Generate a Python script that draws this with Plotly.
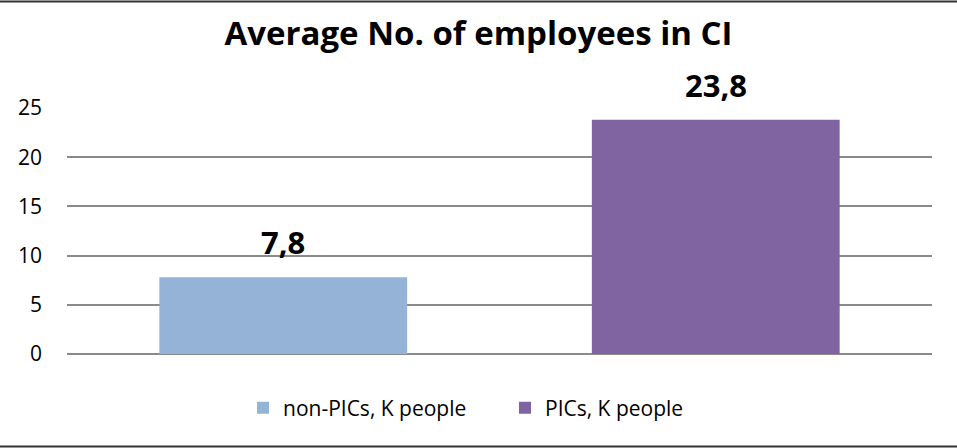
import plotly.graph_objects as go

categories = ["non-PICs, K people", "PICs, K people"]
values = [7.8, 23.8]
colors = ["#95B3D7", "#8064A2"]
y_ticks = [0, 5, 10, 15, 20, 25]
title_text = "Average No. of employees in CI"

FONT = "Open Sans"
W, H = 957, 448
ML, MR, MT, MB = 67, 25, 108, 94
PW, PH = W - ML - MR, H - MT - MB

fig = go.Figure()
for cat, val, col in zip(categories, values, colors):
    fig.add_trace(go.Bar(
        x=[cat], y=[val], name=cat,
        marker=dict(color=col, line=dict(width=0)),
        hoverinfo="x+y",
    ))

annotations = []
for cat, val in zip(categories, values):
    annotations.append(dict(
        x=cat, y=val, xref="x", yref="y",
        text=f"{val:.1f}".replace(".", ","),
        showarrow=False, yanchor="bottom", yshift=12,
        font=dict(family=FONT, size=31, color="#000000", weight="bold"),
    ))

shapes = [
    dict(type="line", xref="paper", yref="paper",
         x0=-ML / PW, x1=(W - ML) / PW,
         y0=(PH + MT - 1.5) / PH, y1=(PH + MT - 1.5) / PH,
         line=dict(color="#333333", width=2)),
    dict(type="line", xref="paper", yref="paper",
         x0=-ML / PW, x1=(W - ML) / PW,
         y0=-(MB - 1.5) / PH, y1=-(MB - 1.5) / PH,
         line=dict(color="#333333", width=2)),
]

fig.update_layout(
    width=W, height=H,
    margin=dict(l=ML, r=MR, t=MT, b=MB, pad=0),
    paper_bgcolor="white", plot_bgcolor="white",
    barmode="overlay", bargap=0.427,
    title=dict(text=title_text, x=0.5, xanchor="center",
               y=1 - 33 / H, yanchor="middle", yref="container",
               font=dict(family=FONT, size=33, color="#000000", weight="bold")),
    font=dict(family=FONT, size=21, color="#000000"),
    xaxis=dict(showticklabels=False, showgrid=False, zeroline=False,
               showline=False, ticks=""),
    yaxis=dict(range=[0, 25], tickvals=y_ticks, showgrid=True,
               gridcolor="#8a8a8a", gridwidth=1.6, zeroline=True,
               zerolinecolor="#8a8a8a", zerolinewidth=1.6, showline=False,
               ticks="", ticklabelstandoff=24,
               tickfont=dict(family=FONT, size=21, color="#000000")),
    showlegend=True,
    legend=dict(orientation="h", x=(243 - ML) / PW, xanchor="left",
                y=(MT + PH - 408) / PH,
                yanchor="middle", entrywidth=217, entrywidthmode="pixels",
                font=dict(family=FONT, size=21, color="#000000"),
                bgcolor="rgba(0,0,0,0)"),
    annotations=annotations,
    shapes=shapes,
)

fig.write_html("out.html", config={"displayModeBar": False},
               post_script="document.body.style.margin='0';")
